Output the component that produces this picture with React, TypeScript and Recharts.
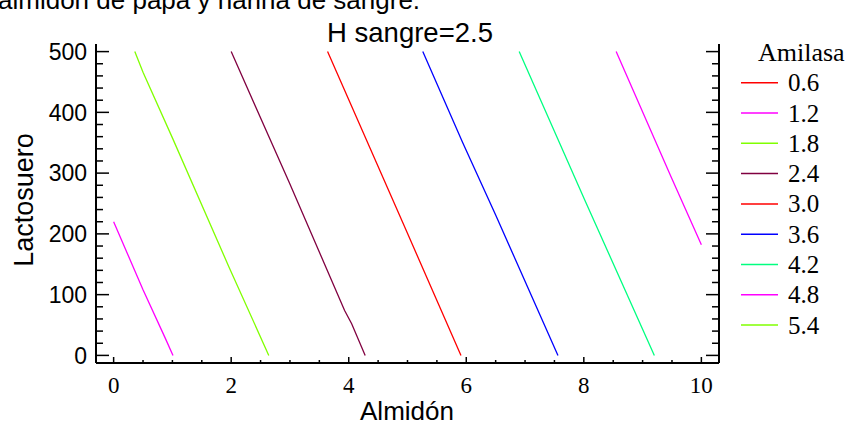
import { LineChart, Line, XAxis, YAxis } from "recharts";

const SANS = "Arial, 'Liberation Sans', sans-serif";
const SERIF = "'Times New Roman', 'Liberation Serif', serif";

// axis ticks
const xLabelTicks = [0, 2, 4, 6, 8, 10];
const yLabelTicks = [0, 100, 200, 300, 400, 500];
const xMinorStep = 0.5;
const yMinorStep = 20;

// contour levels (Amilasa) and their colours
const levels = ["0.6", "1.2", "1.8", "2.4", "3.0", "3.6", "4.2", "4.8", "5.4"];
const levelColors = [
  "#ff0000",
  "#ff00ff",
  "#80ff00",
  "#800040",
  "#ff0000",
  "#0000ff",
  "#00ff80",
  "#ff00ff",
  "#80ff00",
];

// contour lines as [Almidón, Lactosuero] points
const c06: number[][] = [];
const c12 = [[0, 220], [0.5, 108], [0.88, 28], [1.01, 0]];
const c18 = [[0.36, 500], [0.5, 466], [1.0, 358], [1.96, 146], [2.64, 0]];
const c24 = [[2.0, 500], [2.99, 284], [3.93, 74], [4.05, 52], [4.28, 0]];
const c30 = [[3.64, 500], [4.99, 203], [5.91, 0]];
const c36 = [[5.26, 500], [5.94, 350], [6.5, 231], [7.56, 0]];
const c42 = [[6.9, 500], [8.01, 257], [9.2, 0]];
const c48 = [[8.55, 500], [9.48, 295], [10.0, 182]];
const c54: number[][] = [];

const contours = [c06, c12, c18, c24, c30, c36, c42, c48, c54];

const xTicks: number[] = [];
for (let v = 0; v <= 10; v += xMinorStep) xTicks.push(v);
const yTicks: number[] = [];
for (let v = 0; v <= 500; v += yMinorStep) yTicks.push(v);

const isMajorX = (v: number) => xLabelTicks.includes(v);
const isMajorY = (v: number) => yLabelTicks.includes(v);

function BottomTick(props: any) {
  const { x, y, payload } = props;
  const major = isMajorX(payload.value);
  return (
    <g>
      <line x1={x} y1={y} x2={x} y2={y - (major ? 6 : 3)} stroke="#000" strokeWidth={1.5} />
      {major && (
        <text x={x} y={y + 30} textAnchor="middle" fontFamily={SERIF} fontSize={23} fill="#000">
          {payload.value}
        </text>
      )}
    </g>
  );
}

function TopTick(props: any) {
  const { x, y, payload } = props;
  const major = isMajorX(payload.value);
  return <line x1={x} y1={y} x2={x} y2={y + (major ? 6 : 3)} stroke="#000" strokeWidth={1.5} />;
}

function LeftTick(props: any) {
  const { x, y, payload } = props;
  const major = isMajorY(payload.value);
  return (
    <g>
      <line x1={x} y1={y} x2={x + (major ? 13 : 7)} y2={y} stroke="#000" strokeWidth={1.5} />
      {major && (
        <text x={x - 9} y={y} dy="0.36em" textAnchor="end" fontFamily={SANS} fontSize={23} fill="#000">
          {payload.value}
        </text>
      )}
    </g>
  );
}

function RightTick(props: any) {
  const { x, y, payload } = props;
  const major = isMajorY(payload.value);
  return <line x1={x} y1={y} x2={x - (major ? 13 : 7)} y2={y} stroke="#000" strokeWidth={1.5} />;
}

const axisLine = { stroke: "#000", strokeWidth: 2 };

export default function App() {
  return (
    <div style={{ position: "absolute", left: 0, top: 0, width: 845, height: 427, background: "#fff" }}>
      <LineChart width={845} height={427} margin={{ top: 44, right: 125, bottom: 24, left: 36 }}>
        <XAxis
          xAxisId="b"
          type="number"
          dataKey="x"
          domain={[-0.3, 10.3]}
          allowDataOverflow
          ticks={xTicks}
          interval={0}
          orientation="bottom"
          height={40}
          tickSize={0}
          tickMargin={0}
          tickLine={false}
          axisLine={axisLine}
          tick={(p: any) => <BottomTick {...p} />}
        />
        <XAxis
          xAxisId="t"
          type="number"
          dataKey="x"
          domain={[-0.3, 10.3]}
          allowDataOverflow
          ticks={xTicks}
          interval={0}
          orientation="top"
          height={0}
          tickSize={0}
          tickMargin={0}
          tickLine={false}
          axisLine={axisLine}
          tick={(p: any) => <TopTick {...p} />}
        />
        <YAxis
          yAxisId="l"
          type="number"
          dataKey="y"
          domain={[-12.5, 512.5]}
          allowDataOverflow
          ticks={yTicks}
          interval={0}
          width={60}
          tickSize={0}
          tickMargin={0}
          tickLine={false}
          axisLine={axisLine}
          tick={(p: any) => <LeftTick {...p} />}
        />
        <YAxis
          yAxisId="r"
          type="number"
          dataKey="y"
          domain={[-12.5, 512.5]}
          allowDataOverflow
          ticks={yTicks}
          interval={0}
          orientation="right"
          width={1}
          tickSize={0}
          tickMargin={0}
          tickLine={false}
          axisLine={axisLine}
          tick={(p: any) => <RightTick {...p} />}
        />
        {contours.map((pts, i) =>
          pts.length ? (
            <Line
              key={levels[i]}
              xAxisId="b"
              yAxisId="l"
              data={pts.map(([x, y]) => ({ x, y }))}
              dataKey="y"
              type="linear"
              stroke={levelColors[i]}
              strokeWidth={1.3}
              dot={false}
              activeDot={false}
              isAnimationActive={false}
            />
          ) : null
        )}
      </LineChart>

      <svg
        width={845}
        height={427}
        style={{ position: "absolute", left: 0, top: 0, pointerEvents: "none" }}
      >
        <text x={-2} y={9} fontFamily={SANS} fontSize={26} fill="#000">
          almidón de papa y harina de sangre.
        </text>
        <text x={410} y={42} textAnchor="middle" fontFamily={SANS} fontSize={27.5} fill="#000">
          H sangre=2.5
        </text>
        <text x={407} y={420} textAnchor="middle" fontFamily={SANS} fontSize={26} fill="#000">
          Almidón
        </text>
        <text
          x={33}
          y={200}
          transform="rotate(-90 33 200)"
          textAnchor="middle"
          fontFamily={SANS}
          fontSize={27}
          fill="#000"
        >
          Lactosuero
        </text>

        <text x={758} y={61} fontFamily={SERIF} fontSize={26} fill="#000">
          Amilasa
        </text>
        {levels.map((lv, i) => {
          const cy = 82.7 + i * 30.3;
          return (
            <g key={lv}>
              <line x1={741} y1={cy} x2={778} y2={cy} stroke={levelColors[i]} strokeWidth={1.5} />
              <text x={788} y={cy + 8.5} fontFamily={SERIF} fontSize={25} fill="#000">
                {lv}
              </text>
            </g>
          );
        })}
      </svg>
    </div>
  );
}
